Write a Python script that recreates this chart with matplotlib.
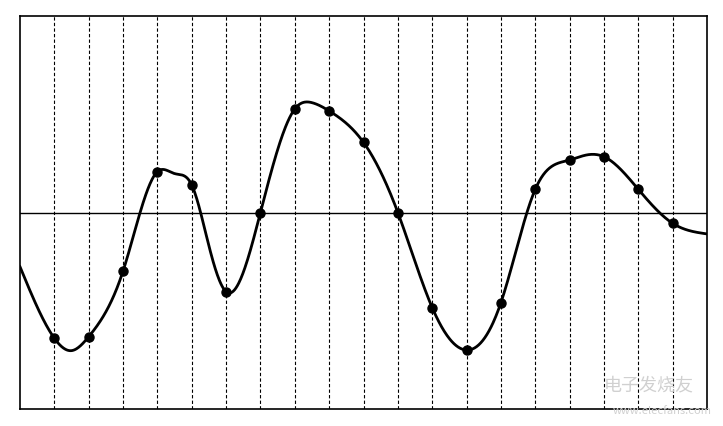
import numpy as np
import matplotlib.pyplot as plt

plt.rcParams['font.family'] = ['Noto Sans CJK SC', 'DejaVu Sans']

# sample instants (dots on the dashed lines)
sample_t = [1, 2, 3, 4, 5, 6, 7, 8, 9, 10, 11, 12, 13, 14, 15, 16, 17, 18, 19]
sample_v = [-0.640, -0.632, -0.298, 0.208, 0.140, -0.403, 0.0, 0.527, 0.517,
            0.357, 0.0, -0.484, -0.700, -0.459, 0.118, 0.267, 0.284, 0.118, -0.055]

# extra readings of the continuous curve (box edges and a few turning points)
extra_t = [0, 1.5, 4.5, 5.5, 8.5, 16.5, 20]
extra_v = [-0.276, -0.703, 0.198, -0.17, 0.559, 0.293, -0.109]


def natural_spline(x, y, xs):
    # plain natural cubic spline, only used to draw the line smoothly
    x = np.asarray(x, float)
    y = np.asarray(y, float)
    n = len(x)
    h = np.diff(x)
    A = np.zeros((n, n))
    b = np.zeros(n)
    A[0, 0] = 1
    A[-1, -1] = 1
    for i in range(1, n - 1):
        A[i, i - 1] = h[i - 1]
        A[i, i] = 2 * (h[i - 1] + h[i])
        A[i, i + 1] = h[i]
        b[i] = 3 * ((y[i + 1] - y[i]) / h[i] - (y[i] - y[i - 1]) / h[i - 1])
    c = np.linalg.solve(A, b)
    idx = np.clip(np.searchsorted(x, xs) - 1, 0, n - 2)
    dx = xs - x[idx]
    hi = h[idx]
    bb = (y[idx + 1] - y[idx]) / hi - hi * (2 * c[idx] + c[idx + 1]) / 3
    d = (c[idx + 1] - c[idx]) / (3 * hi)
    return y[idx] + bb * dx + c[idx] * dx**2 + d * dx**3


order = np.argsort(sample_t + extra_t)
curve_t = np.array(sample_t + extra_t, float)[order]
curve_v = np.array(sample_v + extra_v, float)[order]

fig = plt.figure(figsize=(7.23, 4.26), dpi=100)
ax = fig.add_axes([20 / 723, 17 / 426, 687 / 723, 393 / 426])

for t in sample_t:
    ax.axvline(t, color='black', lw=0.8, ls=(0, (3, 2)), zorder=1)
ax.axhline(0, color='black', lw=1.0, zorder=1)

xs = np.linspace(0, 20, 1000)
ax.plot(xs, natural_spline(curve_t, curve_v, xs), color='black', lw=2.0, zorder=3)
ax.plot(sample_t, sample_v, 'o', color='black', ms=6.5, zorder=4)

ax.set_xlim(0, 20)
ax.set_ylim(-1, 1)
ax.set_xticks([])
ax.set_yticks([])
for s in ax.spines.values():
    s.set_linewidth(1.2)

# faint watermark
fig.text(0.96, 0.095, '电子发烧友', color='#d0d0d0', fontsize=13,
         ha='right', va='center', style='italic')
fig.text(0.985, 0.035, 'www.elecfans.com', color='#d0d0d0', fontsize=8,
         ha='right', va='center')

fig.savefig('out.png', dpi=100)
